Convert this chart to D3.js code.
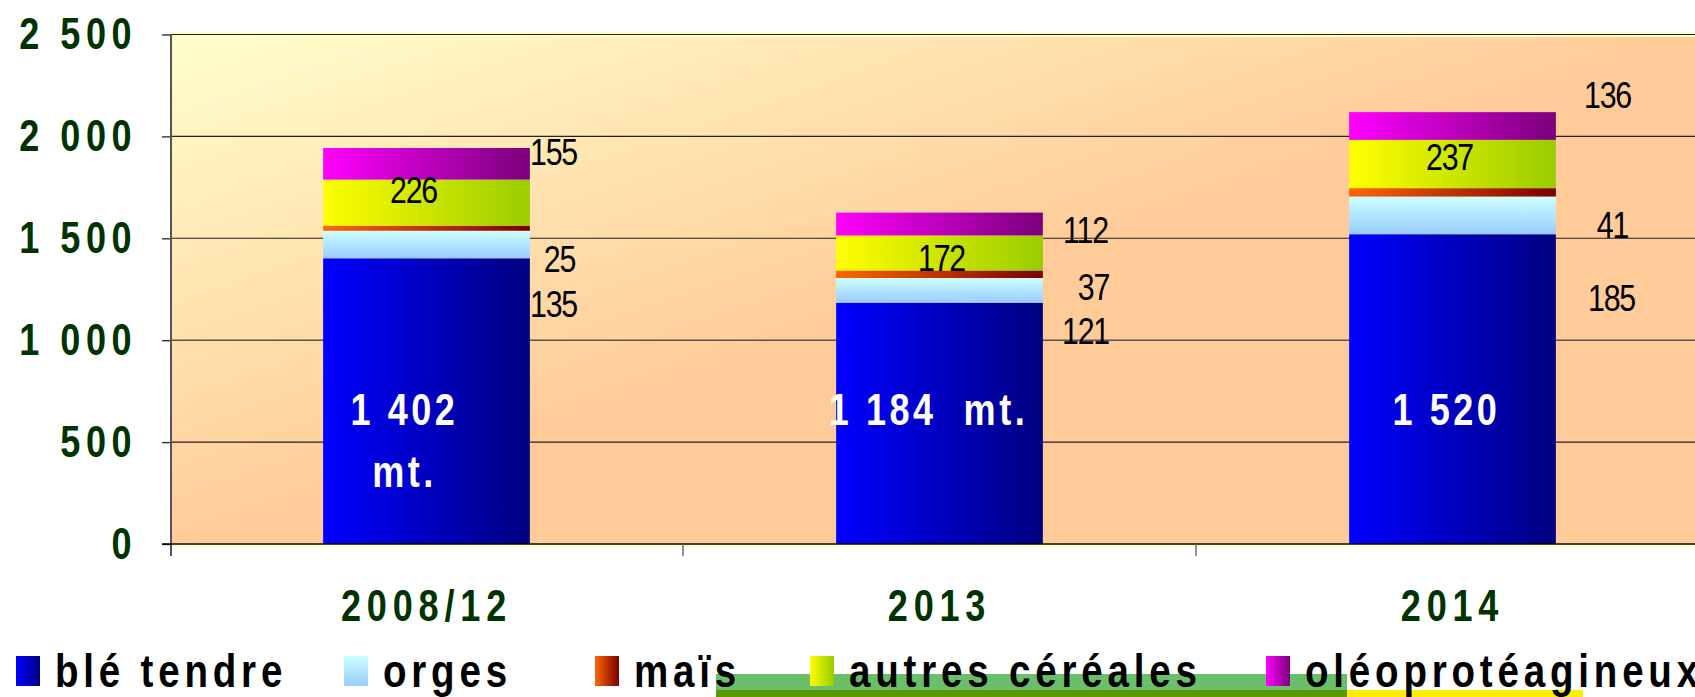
<!DOCTYPE html>
<html>
<head>
<meta charset="utf-8">
<script src="https://cdn.jsdelivr.net/npm/d3@7/dist/d3.min.js"></script>
<style>
  body { margin: 0; background: #fff; overflow: hidden; }
  text { font-family: "Liberation Sans", Arial, sans-serif; }
</style>
</head>
<body>
<script>
// DATA (milliers de tonnes)
const categories = ["2008/12", "2013", "2014"];
const bleTendre = [1402, 1184, 1520];
const orges = [135, 121, 185];
const mais = [25, 37, 41];
const autres = [226, 172, 237];
const oleo = [155, 112, 136];
const seriesKeys = ["ble", "orges", "mais", "autres", "oleo"];
const seriesNames = ["blé tendre", "orges", "maïs", "autres céréales", "oléoprotéagineux"];
const bleLabels = [["1 402", "mt."], ["1 184  mt."], ["1 520"]];
const yTicks = [0, 500, 1000, 1500, 2000, 2500];

// LAYOUT
const svgwidth = 1695;
const svgheight = 697;
const axisX = 171;
const narrow = 0.82; // no narrow font installed -> squeeze horizontally
// label offsets from bar centre / segment middle
const labelOffsets = {
  orges:  [[127, 59], [146, 40], [159, 82]],
  mais:   [[133, 30], [154, 12], [160, 32]],
  autres: [[-13, -13], [2, 5], [-3, -7]],
  oleo:   [[127, -12], [146, 6], [155, -31]]
};
const bleDx = [-22, -11, -6];
const legendX = [16, 344, 595, 810, 1266];

const table = categories.map((c, i) => ({
  cat: c, ble: bleTendre[i], orges: orges[i], mais: mais[i], autres: autres[i], oleo: oleo[i]
}));
const stacked = d3.stack().keys(seriesKeys)(table);

// squeeze a text selection around its own x
const condense = sel => sel.each(function () {
  const t = d3.select(this);
  const x = +t.attr("x") || 0;
  t.attr("transform", `translate(${x * (1 - narrow)},0) scale(${narrow},1)`);
});
const ls = px => (px / narrow) + "px";

//SVG
const svg = d3.select("body").append("svg")
  .attr("width", svgwidth)
  .attr("height", svgheight);

//GRADIENTS
const defs = svg.append("defs");
const grads = {
  ble:    ["#0000ff", "#000080", "h"],
  orges:  ["#ccffff", "#99ccff", "v"],
  mais:   ["#ff6600", "#7a0000", "h"],
  autres: ["#ffff00", "#99cc00", "h"],
  oleo:   ["#ff00ff", "#7a007a", "h"]
};
Object.entries(grads).forEach(([k, g]) => {
  const lg = defs.append("linearGradient").attr("id", "g-" + k)
    .attr("x1", 0).attr("y1", 0)
    .attr("x2", g[2] == "h" ? 1 : 0).attr("y2", g[2] == "h" ? 0 : 1);
  lg.append("stop").attr("offset", 0).attr("stop-color", g[0]);
  lg.append("stop").attr("offset", 1).attr("stop-color", g[1]);
});
const bgGrad = defs.append("linearGradient").attr("id", "g-bg")
  .attr("x1", 0).attr("y1", 0).attr("x2", 0.5).attr("y2", 0.5);
bgGrad.append("stop").attr("offset", 0).attr("stop-color", "#ffffcc");
bgGrad.append("stop").attr("offset", 1).attr("stop-color", "#ffcc99");

// SCALES
const X = d3.scaleBand().domain(categories).range([170, 1709]).padding(0);
const Y = d3.scaleLinear().domain([0, 2500]).range([544, 34.5]);
const barW = X.bandwidth() * 0.403;
const cx = c => X(c) + X.bandwidth() / 2;

//PLOT BACKGROUND
svg.append("rect").attr("x", axisX).attr("y", 32).attr("width", svgwidth - axisX).attr("height", 515)
  .attr("fill", "url(#g-bg)");
svg.append("rect").attr("x", axisX).attr("y", 32).attr("width", svgwidth - axisX).attr("height", 5)
  .attr("fill", "#ffffcc");
svg.append("rect").attr("x", axisX).attr("y", 543).attr("width", svgwidth - axisX).attr("height", 4)
  .attr("fill", "#ffffcc");

//GRIDLINES
svg.append("g").selectAll("line").data(yTicks.filter(d => d > 0)).enter()
  .append("line")
  .attr("x1", axisX).attr("x2", svgwidth)
  .attr("y1", d => Y(d)).attr("y2", d => Y(d))
  .attr("stroke", d => d == 1000 ? "#555" : "#222")
  .attr("stroke-width", d => d == 1000 ? 1.6 : 1.1);

//BARS
const layers = svg.append("g").selectAll("g").data(stacked).enter()
  .append("g").attr("fill", d => "url(#g-" + d.key + ")");
layers.selectAll("rect").data(d => d).enter()
  .append("rect")
  .attr("x", d => cx(d.data.cat) - barW / 2)
  .attr("width", barW)
  .attr("y", d => Y(d[1]))
  .attr("height", d => Y(d[0]) - Y(d[1]));

//Y AXIS
const fmt = d3.formatLocale({ decimal: ",", thousands: " ", grouping: [3] }).format(",");
const yAxis = svg.append("g").attr("transform", `translate(${axisX},0)`)
  .call(d3.axisLeft(Y).tickValues(yTicks).tickFormat(fmt).tickSize(9).tickPadding(25));
yAxis.select(".domain").remove();
yAxis.selectAll(".tick line").attr("stroke", "#333").attr("stroke-width", 1.4);
yAxis.selectAll("text")
  .attr("font-size", 44).attr("font-weight", "bold").attr("fill", "#003300")
  .style("letter-spacing", ls(5.5)).style("font-family", null)
  .call(condense);
svg.append("line").attr("x1", axisX).attr("x2", axisX).attr("y1", 34).attr("y2", 556)
  .attr("stroke", "#555").attr("stroke-width", 2);

//X AXIS
svg.append("line").attr("x1", 162).attr("x2", svgwidth).attr("y1", 544).attr("y2", 544)
  .attr("stroke", "#000").attr("stroke-width", 1.5);
svg.append("g").selectAll("line").data(categories.slice(1)).enter()
  .append("line")
  .attr("x1", d => X(d)).attr("x2", d => X(d)).attr("y1", 544).attr("y2", 556)
  .attr("stroke", "#666").attr("stroke-width", 1.4);
const xAxis = svg.append("g").attr("transform", "translate(0,544)")
  .call(d3.axisBottom(X).tickSize(0).tickPadding(46));
xAxis.select(".domain").remove();
xAxis.selectAll("text")
  .attr("font-size", 44).attr("font-weight", "bold").attr("fill", "#003300")
  .style("letter-spacing", ls(5.8)).style("font-family", null)
  .call(condense);

//VALUE LABELS
const lbl = svg.append("g");
stacked.filter(s => s.key != "ble").forEach(s => {
  lbl.selectAll(null).data(s).enter()
    .append("text")
    .attr("x", (d, i) => cx(d.data.cat) + labelOffsets[s.key][i][0])
    .attr("y", (d, i) => (Y(d[0]) + Y(d[1])) / 2 + labelOffsets[s.key][i][1])
    .attr("dy", "0.36em")
    .attr("text-anchor", "middle")
    .attr("font-size", 37)
    .style("letter-spacing", ls(-1.2))
    .text(d => d.data[s.key])
    .call(condense);
});
categories.forEach((c, i) => {
  const t = lbl.append("text")
    .attr("x", cx(c) + bleDx[i])
    .attr("text-anchor", "middle")
    .attr("font-size", 44).attr("font-weight", "bold").attr("fill", "#fff")
    .style("letter-spacing", ls(3.5)).style("white-space", "pre");
  bleLabels[i].forEach((line, j) => {
    t.append("tspan")
      .attr("x", cx(c) + bleDx[i])
      .attr("y", Y(0) - 135 + j * 62)
      .attr("dy", "0.36em")
      .text(line);
  });
  t.call(condense);
});

//DECORATION UNDER LEGEND
svg.append("rect").attr("x", 716).attr("y", 674).attr("width", 631).attr("height", 23).attr("fill", "#6bbf6b");
svg.append("rect").attr("x", 716).attr("y", 690).attr("width", 631).attr("height", 7).attr("fill", "#5a9a00");
svg.append("rect").attr("x", 1347).attr("y", 690).attr("width", 236).attr("height", 7).attr("fill", "#ffee00");

//LEGEND
const legend = svg.append("g").selectAll("g").data(seriesKeys).enter()
  .append("g").attr("transform", (d, i) => `translate(${legendX[i]},0)`);
legend.append("rect").attr("x", 0).attr("y", 656).attr("width", 24).attr("height", 30)
  .attr("fill", d => "url(#g-" + d + ")");
legend.append("text").attr("x", 39).attr("y", 687)
  .attr("font-size", 47).attr("font-weight", "bold").attr("fill", "#000")
  .style("letter-spacing", ls(4.8))
  .text((d, i) => seriesNames[i])
  .call(condense);
</script>
</body>
</html>
